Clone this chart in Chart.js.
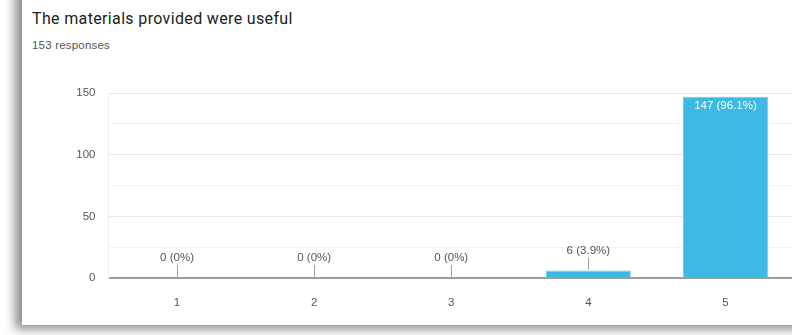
<!DOCTYPE html>
<html>
<head>
<meta charset="utf-8">
<script src="https://cdn.jsdelivr.net/npm/chart.js@4.4.0/dist/chart.umd.min.js"></script>
<style>
    html, body { margin: 0; padding: 0; width: 792px; height: 335px; overflow: hidden; background: #fff; }
    .card {
        position: absolute; left: 22px; top: -20px; width: 800px; height: 345px;
        background: #fff;
        box-shadow: -7px 4px 10px rgba(0, 0, 0, 0.45);
    }
    .title {
        position: absolute; left: 32px; top: 9px;
        font-family: Roboto, Arial, sans-serif; font-size: 16px; letter-spacing: 0.35px; color: #202124;
    }
    .sub {
        position: absolute; left: 32px; top: 39px;
        font-family: Arial, "Liberation Sans", sans-serif; font-size: 11.5px; letter-spacing: 0.2px; color: #555;
    }
    #wrap { position: absolute; left: 0; top: 0; width: 794px; height: 335px; }
</style>
</head>
<body>
<div class="card"></div>
<div class="title">The materials provided were useful</div>
<div class="sub">153 responses</div>
<div id="wrap"><canvas id="chart"></canvas></div>
<script>
    // data
    let categories = ["1", "2", "3", "4", "5"];
    let counts = [0, 0, 0, 6, 147];
    let percents = ["0%", "0%", "0%", "3.9%", "96.1%"];
    let yTicks = [0, 50, 100, 150];

    let font = "Arial, 'Liberation Sans', sans-serif";

    // value labels with small leader lines
    let valueLabels = {
        id: 'valueLabels',
        afterDatasetsDraw: function (chart) {
            let ctx = chart.ctx;
            let meta = chart.getDatasetMeta(0);
            ctx.save();
            ctx.font = "11.5px " + font;
            ctx.textAlign = "center";
            meta.data.forEach(function (bar, i) {
                let text = counts[i] + " (" + percents[i] + ")";
                if (counts[i] > 100) {
                    ctx.fillStyle = "#ffffff";
                    ctx.textBaseline = "top";
                    ctx.fillText(text, bar.x, bar.y + 3);
                } else {
                    let top = bar.y - 1;
                    ctx.strokeStyle = "#9e9e9e";
                    ctx.lineWidth = 1;
                    ctx.beginPath();
                    ctx.moveTo(Math.round(bar.x) + 0.5, top);
                    ctx.lineTo(Math.round(bar.x) + 0.5, top - 12);
                    ctx.stroke();
                    ctx.fillStyle = "#555";
                    ctx.textBaseline = "bottom";
                    ctx.fillText(text, bar.x, top - 13);
                }
            });
            ctx.restore();
        }
    };

    new Chart(document.getElementById("chart"), {
        type: 'bar',
        data: {
            labels: categories,
            datasets: [{
                data: counts,
                backgroundColor: "#3cb9e4",
                borderColor: "#6fcdeb",
                borderWidth: { top: 1, left: 1, right: 1, bottom: 0 },
                categoryPercentage: 1,
                barPercentage: 0.62
            }]
        },
        options: {
            responsive: true,
            maintainAspectRatio: false,
            animation: false,
            events: [],
            layout: { padding: { top: 93, left: 0, right: 0, bottom: 0 } },
            plugins: {
                legend: { display: false },
                tooltip: { enabled: false }
            },
            scales: {
                x: {
                    afterFit: function (s) { s.height = 57; },
                    grid: { display: false },
                    border: { color: "#9e9e9e", width: 2 },
                    ticks: {
                        padding: 10,
                        color: "#555",
                        font: { family: font, size: 11.5 }
                    }
                },
                y: {
                    min: 0,
                    max: 150,
                    afterFit: function (s) { s.width = 108.5; },
                    border: { display: true, color: "#eeeeee" },
                    grid: {
                        drawTicks: false,
                        color: function (c) {
                            return c.tick.value % 50 === 0 ? "#e8e8e8" : "#f3f3f3";
                        }
                    },
                    ticks: {
                        stepSize: 25,
                        padding: 13,
                        color: "#555",
                        font: { family: font, size: 11.5 },
                        callback: function (v) { return yTicks.indexOf(v) >= 0 ? v : ""; }
                    }
                }
            }
        },
        plugins: [valueLabels]
    });
</script>
</body>
</html>
